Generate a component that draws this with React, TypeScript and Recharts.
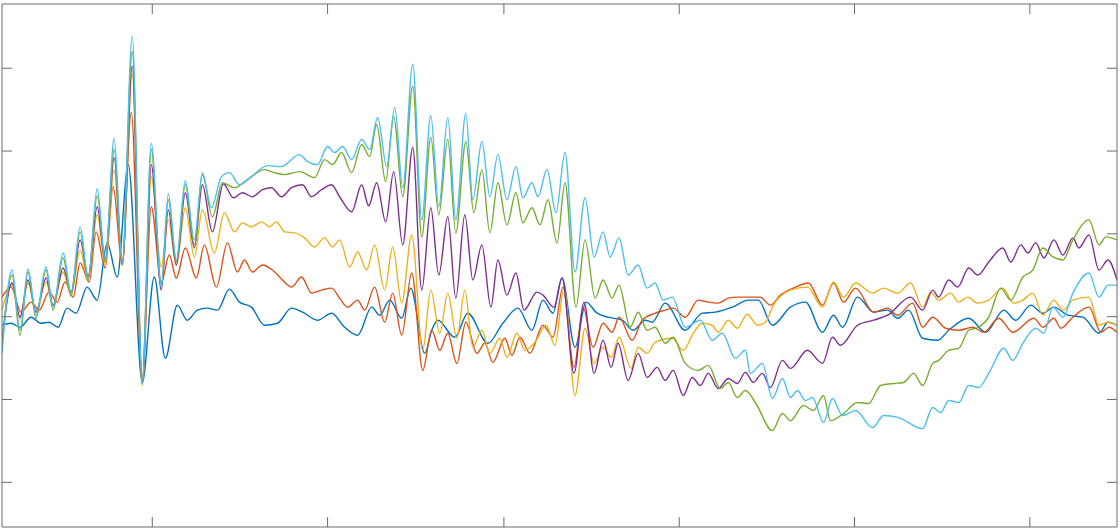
import React from 'react';
import { LineChart, Line, XAxis, YAxis } from 'recharts';

// sample positions (time) and levels for each trace
const blueX = [3, 12, 21, 32, 42, 50, 59, 68, 77, 88, 98, 108, 118, 129, 143, 155, 166, 178, 188, 198, 208, 218, 230, 240, 252, 265, 278, 292, 303, 318, 332, 345, 358, 372, 380, 390, 402, 411, 425, 432, 438, 455, 468, 488, 503, 518, 532, 543, 553, 562, 575, 586, 597, 608, 622, 633, 645, 652, 665, 685, 702, 715, 732, 748, 758, 772, 790, 805, 822, 833, 842, 857, 873, 887, 897, 908, 922, 937, 948, 968, 985, 1003, 1015, 1030, 1042, 1053, 1067, 1082, 1098, 1107, 1116];
const blueY = [201, 203, 199, 209, 203, 204, 199, 218, 213, 239, 226, 283, 249, 361, 144, 249, 168, 221, 206, 216, 218, 216, 237, 224, 219, 201, 203, 218, 214, 206, 213, 199, 191, 219, 211, 226, 208, 238, 173, 196, 206, 189, 213, 183, 203, 218, 196, 226, 213, 248, 179, 224, 213, 209, 206, 196, 206, 204, 223, 196, 213, 214, 219, 226, 226, 201, 219, 224, 194, 211, 199, 229, 214, 216, 208, 216, 188, 186, 196, 208, 194, 216, 206, 221, 213, 219, 211, 209, 193, 204, 201];

const orangeX = [3, 12, 22, 32, 40, 50, 58, 66, 74, 81, 90, 97, 106, 114, 123, 132, 143, 152, 162, 170, 177, 186, 197, 205, 217, 228, 238, 245, 253, 263, 273, 283, 292, 302, 312, 322, 332, 340, 348, 358, 365, 375, 385, 393, 402, 412, 423, 432, 440, 448, 457, 466, 477, 485, 493, 505, 512, 520, 530, 543, 553, 563, 574, 583, 593, 603, 612, 619, 632, 642, 655, 665, 673, 685, 698, 708, 718, 728, 738, 750, 760, 770, 780, 793, 808, 822, 833, 843, 855, 873, 887, 897, 912, 922, 932, 945, 958, 972, 983, 998, 1012, 1033, 1042, 1053, 1060, 1072, 1088, 1100, 1108, 1116];
const orangeY = [229, 239, 214, 224, 216, 234, 224, 244, 229, 263, 244, 294, 258, 339, 261, 413, 146, 319, 244, 271, 248, 278, 248, 281, 239, 283, 254, 266, 254, 261, 256, 246, 239, 249, 233, 236, 238, 228, 219, 226, 216, 239, 204, 233, 191, 253, 156, 196, 176, 193, 163, 204, 173, 183, 164, 188, 171, 189, 173, 201, 189, 239, 159, 219, 179, 203, 194, 209, 186, 206, 213, 216, 218, 209, 226, 224, 223, 228, 229, 229, 229, 221, 231, 238, 243, 221, 243, 224, 238, 214, 218, 211, 223, 199, 209, 198, 196, 199, 194, 208, 194, 208, 199, 208, 198, 209, 219, 194, 199, 194];

const yellowX = [3, 13, 21, 29, 37, 47, 54, 64, 72, 81, 89, 98, 106, 115, 123, 133, 143, 152, 162, 169, 177, 186, 195, 203, 215, 225, 235, 243, 252, 262, 270, 277, 285, 295, 305, 315, 325, 333, 340, 350, 358, 367, 375, 385, 393, 402, 412, 423, 431, 440, 448, 457, 465, 473, 482, 490, 500, 507, 517, 525, 535, 546, 555, 564, 575, 585, 594, 603, 611, 619, 631, 638, 647, 655, 672, 683, 693, 702, 712, 718, 728, 737, 747, 757, 765, 773, 790, 807, 822, 833, 843, 855, 872, 883, 897, 910, 922, 930, 938, 950, 958, 967, 977, 988, 1002, 1013, 1022, 1032, 1042, 1053, 1062, 1072, 1088, 1098, 1107, 1116];
const yellowY = [216, 241, 208, 243, 216, 244, 221, 254, 231, 276, 246, 311, 261, 356, 261, 451, 141, 349, 259, 306, 261, 318, 269, 316, 273, 313, 294, 303, 299, 304, 299, 304, 294, 293, 288, 279, 288, 279, 286, 259, 274, 256, 281, 236, 279, 223, 291, 176, 236, 193, 233, 188, 236, 179, 196, 173, 188, 169, 193, 176, 184, 201, 181, 238, 131, 198, 163, 179, 169, 189, 158, 179, 173, 184, 188, 176, 193, 203, 201, 194, 206, 198, 212, 201, 204, 221, 236, 239, 219, 244, 229, 243, 233, 238, 233, 243, 219, 234, 226, 233, 224, 229, 223, 226, 238, 223, 226, 233, 211, 226, 216, 226, 229, 201, 204, 201];

const purpleX = [3, 13, 21, 29, 37, 47, 54, 64, 72, 81, 89, 98, 106, 115, 123, 133, 143, 152, 162, 169, 177, 186, 195, 203, 213, 224, 234, 243, 253, 263, 272, 282, 292, 303, 312, 322, 332, 340, 352, 362, 369, 377, 386, 394, 403, 413, 422, 431, 439, 448, 456, 465, 473, 482, 491, 498, 507, 516, 524, 537, 543, 554, 562, 574, 584, 594, 603, 611, 618, 628, 638, 647, 657, 665, 673, 683, 692, 700, 708, 718, 728, 737, 745, 753, 762, 770, 782, 790, 807, 822, 832, 840, 857, 873, 887, 910, 922, 932, 938, 948, 957, 968, 977, 988, 1002, 1010, 1020, 1027, 1035, 1043, 1053, 1062, 1072, 1078, 1088, 1098, 1107, 1116];
const purpleY = [186, 243, 209, 246, 214, 248, 221, 258, 234, 286, 250, 319, 266, 368, 262, 459, 143, 361, 236, 316, 261, 333, 278, 341, 294, 342, 328, 333, 329, 336, 338, 329, 338, 341, 329, 336, 341, 329, 314, 341, 320, 343, 304, 354, 281, 378, 236, 318, 251, 309, 228, 311, 246, 281, 219, 266, 231, 253, 216, 234, 231, 219, 248, 153, 224, 153, 186, 159, 183, 146, 173, 149, 159, 146, 156, 131, 149, 141, 153, 138, 148, 143, 154, 144, 153, 139, 166, 158, 176, 163, 189, 181, 201, 206, 211, 229, 216, 236, 229, 246, 239, 258, 251, 264, 278, 264, 281, 273, 283, 268, 286, 271, 288, 278, 291, 256, 266, 246];

const greenX = [3, 13, 21, 29, 37, 47, 54, 64, 72, 81, 89, 98, 106, 115, 123, 133, 143, 152, 162, 169, 177, 186, 195, 203, 213, 223, 235, 248, 265, 275, 285, 300, 315, 325, 333, 342, 352, 362, 370, 377, 386, 394, 403, 413, 422, 431, 439, 448, 456, 466, 474, 482, 490, 498, 507, 516, 523, 532, 540, 548, 557, 565, 576, 585, 595, 603, 612, 619, 630, 638, 647, 655, 665, 673, 685, 698, 708, 720, 728, 737, 745, 755, 772, 782, 790, 803, 813, 823, 830, 843, 857, 868, 880, 893, 903, 913, 922, 932, 938, 948, 958, 968, 978, 988, 1000, 1010, 1022, 1032, 1042, 1052, 1062, 1072, 1088, 1098, 1105, 1116];
const greenY = [181, 251, 191, 254, 208, 256, 216, 268, 230, 294, 246, 330, 264, 376, 261, 474, 146, 376, 241, 326, 264, 341, 281, 351, 309, 343, 338, 346, 356, 353, 351, 354, 348, 366, 361, 373, 353, 381, 369, 401, 344, 409, 329, 439, 289, 388, 311, 386, 293, 384, 313, 356, 293, 343, 301, 333, 303, 318, 301, 326, 283, 343, 219, 286, 228, 246, 228, 241, 199, 214, 196, 199, 183, 189, 163, 156, 161, 138, 144, 129, 136, 124, 96, 113, 106, 121, 116, 131, 106, 113, 124, 123, 141, 143, 144, 153, 141, 163, 166, 176, 178, 196, 199, 209, 238, 226, 249, 256, 278, 269, 266, 286, 306, 281, 289, 286];

const cyanX = [3, 13, 21, 29, 37, 47, 54, 64, 72, 81, 89, 98, 106, 115, 123, 133, 143, 152, 162, 169, 177, 186, 195, 203, 212, 222, 230, 240, 252, 268, 282, 300, 308, 318, 328, 335, 343, 352, 362, 370, 378, 387, 395, 403, 413, 422, 431, 439, 448, 456, 466, 473, 482, 490, 498, 507, 516, 523, 532, 538, 547, 556, 565, 575, 585, 594, 603, 610, 619, 628, 638, 647, 655, 663, 672, 685, 700, 712, 722, 735, 745, 750, 762, 772, 782, 790, 797, 805, 812, 823, 832, 842, 855, 872, 883, 898, 922, 932, 940, 948, 958, 968, 978, 988, 1003, 1012, 1022, 1035, 1043, 1052, 1062, 1072, 1088, 1098, 1107, 1116];
const cyanY = [173, 256, 196, 257, 211, 259, 219, 273, 233, 299, 248, 337, 266, 387, 263, 489, 143, 382, 239, 332, 266, 345, 286, 353, 318, 349, 353, 341, 349, 360, 359, 371, 364, 361, 379, 373, 379, 366, 386, 376, 408, 359, 418, 338, 461, 306, 410, 319, 408, 306, 412, 326, 384, 329, 371, 326, 359, 328, 343, 329, 356, 313, 373, 254, 328, 269, 294, 269, 288, 251, 261, 238, 243, 226, 229, 199, 206, 186, 193, 168, 176, 153, 163, 128, 148, 129, 136, 126, 129, 104, 128, 111, 116, 99, 111, 109, 98, 119, 114, 126, 124, 141, 139, 153, 178, 166, 183, 198, 193, 219, 209, 233, 253, 229, 241, 241];

const xTicks = [153, 328, 504, 679, 854, 1029];
const yTicks = [44.5, 127, 209.5, 292, 374.5, 457];

const zip = (xs: number[], ys: number[]) => xs.map((x, i) => ({ x, y: ys[i] }));

const series = [
  { name: 'blue', color: '#0072BD', data: zip(blueX, blueY) },
  { name: 'orange', color: '#D95319', data: zip(orangeX, orangeY) },
  { name: 'yellow', color: '#EDB120', data: zip(yellowX, yellowY) },
  { name: 'purple', color: '#7E2F8E', data: zip(purpleX, purpleY) },
  { name: 'green', color: '#77AC30', data: zip(greenX, greenY) },
  { name: 'cyan', color: '#4DBEEE', data: zip(cyanX, cyanY) },
];

const frame = '#6a6a6a';
const axisStyle = {
  mirror: true,
  tickSize: 10,
  allowDataOverflow: true,
  tickFormatter: () => '',
  axisLine: { stroke: frame },
  tickLine: { stroke: frame },
};

export default function App() {
  return (
    <div style={{ position: 'absolute', left: 0, top: 0, background: '#fff' }}>
      <LineChart width={1120} height={531} margin={{ top: 4, right: 3, bottom: 4, left: 2 }}>
        <XAxis xAxisId="b" type="number" dataKey="x" domain={[3, 1116]} ticks={xTicks} height={1} {...axisStyle} />
        <XAxis xAxisId="t" orientation="top" type="number" dataKey="x" domain={[3, 1116]} ticks={xTicks} height={1} {...axisStyle} />
        <YAxis yAxisId="l" type="number" domain={[0, 521]} ticks={yTicks} width={1} {...axisStyle} />
        <YAxis yAxisId="r" orientation="right" type="number" domain={[0, 521]} ticks={yTicks} width={1} {...axisStyle} />
        {series.map((s) => (
          <Line key={s.name} xAxisId="b" yAxisId="l" data={s.data} dataKey="y" type="monotone"
            stroke={s.color} strokeWidth={1.4} dot={false} isAnimationActive={false} />
        ))}
      </LineChart>
    </div>
  );
}
